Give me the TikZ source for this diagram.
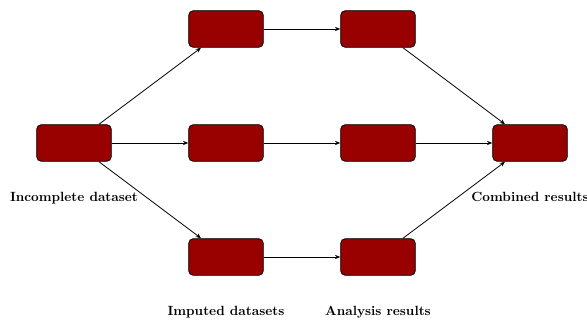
\documentclass[tikz,border=0pt]{standalone}
\usetikzlibrary{arrows.meta}
\begin{document}
\begin{tikzpicture}[x=0.75pt,y=-0.75pt,
  box/.style={draw=black, fill={rgb,255:red,153;green,0;blue,0}, rounded corners=3.5pt, minimum width=56pt, minimum height=27.5pt, inner sep=0pt, line width=0.6pt},
  lbl/.style={font=\bfseries, inner sep=0pt, anchor=base},
  conn/.style={-{Stealth[length=4pt,width=3.2pt]}, line width=0.6pt}]
\useasboundingbox (0,0) rectangle (587,321);
\node[box] (inc) at (74,143) {};
\node[box] (i1) at (226,29) {};
\node[box] (i2) at (226,143) {};
\node[box] (i3) at (226,257) {};
\node[box] (a1) at (378,29) {};
\node[box] (a2) at (378,143) {};
\node[box] (a3) at (378,257) {};
\node[box] (comb) at (530,143) {};
\draw[conn] (inc) -- (i1);
\draw[conn] (inc) -- (i2);
\draw[conn] (inc) -- (i3);
\draw[conn] (i1) -- (a1);
\draw[conn] (i2) -- (a2);
\draw[conn] (i3) -- (a3);
\draw[conn] (a1) -- (comb);
\draw[conn] (a2) -- (comb);
\draw[conn] (a3) -- (comb);
\node[lbl] (linc) at (74,202) {Incomplete dataset};
\node[lbl] (lcomb) at (530,202) {Combined results};
\node[lbl] (limp) at (226,316) {Imputed datasets};
\node[lbl] (lana) at (378,316) {Analysis results};
\end{tikzpicture}
\end{document}
